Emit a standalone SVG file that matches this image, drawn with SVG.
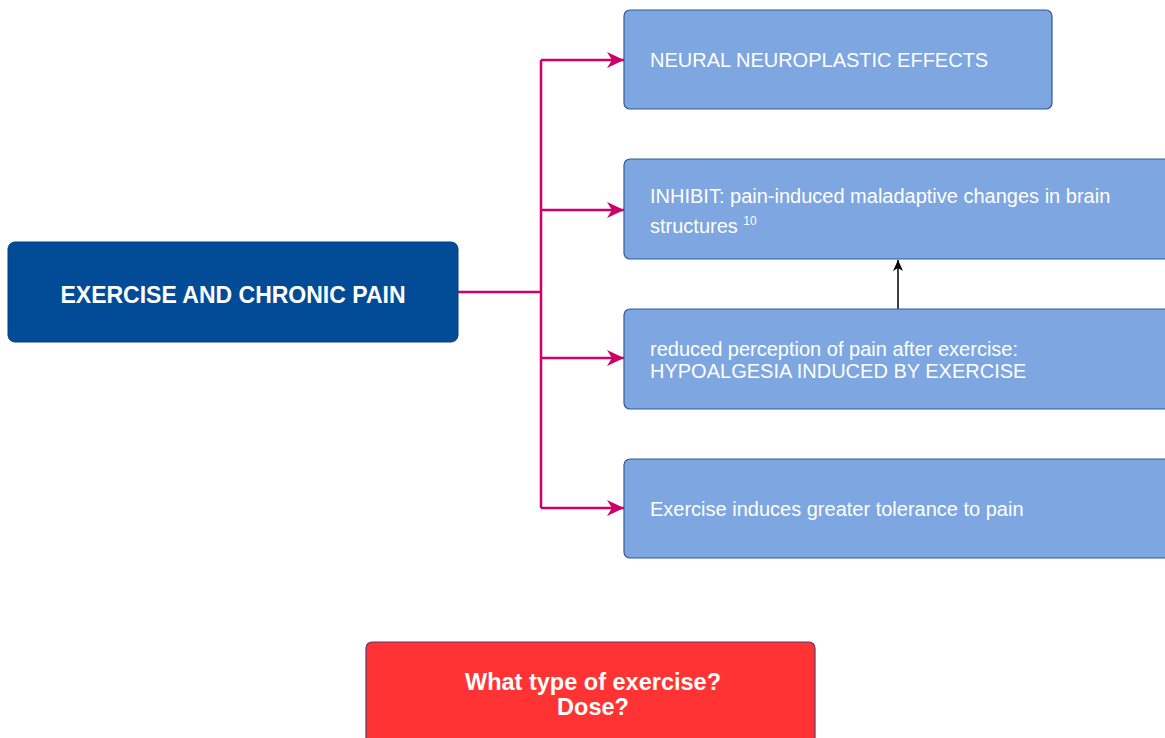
<svg xmlns="http://www.w3.org/2000/svg" width="1165" height="738" viewBox="0 0 1165 738">
<defs>
<style>
.box{fill:#7ea6e0;stroke:#2f5a99;stroke-width:1.2}
.t{font-family:"Liberation Sans",Arial,sans-serif;fill:#ffffff;font-size:20px}
.b{font-family:"Liberation Sans",Arial,sans-serif;fill:#ffffff;font-weight:bold;text-anchor:middle}
.conn{fill:none;stroke:#cc0066;stroke-width:2.5}
</style>
<marker id="mg" markerWidth="18" markerHeight="16" refX="17" refY="8" orient="auto" markerUnits="userSpaceOnUse">
<path d="M0,0 L17,8 L0,16 L5,8 Z" fill="#cc0066"/>
</marker>
<marker id="bk" markerWidth="12" markerHeight="12" refX="11" refY="5" orient="auto" markerUnits="userSpaceOnUse">
<path d="M0,0 L11,5 L0,10 L3,5 Z" fill="#000000"/>
</marker>
</defs>
<rect width="1165" height="738" fill="#ffffff"/>
<g id="connectors">
<path class="conn" d="M458,292 H541"/>
<path class="conn" d="M541,60 V508"/>
<path class="conn" d="M541,60 H624" marker-end="url(#mg)"/>
<path class="conn" d="M541,210 H624" marker-end="url(#mg)"/>
<path class="conn" d="M541,358 H624" marker-end="url(#mg)"/>
<path class="conn" d="M541,508 H624" marker-end="url(#mg)"/>
<path d="M898,309 V260" fill="none" stroke="#000000" stroke-width="1.5" marker-end="url(#bk)"/>
</g>
<g id="main">
<rect x="8" y="242" width="450" height="100" rx="7" fill="#024c97" stroke="#013f80" stroke-width="1"/>
<text class="b" x="233" y="303" font-size="23">EXERCISE AND CHRONIC PAIN</text>
</g>
<g id="n1">
<rect class="box" x="624" y="10" width="428" height="99" rx="6"/>
<text class="t" x="650" y="67">NEURAL NEUROPLASTIC EFFECTS</text>
</g>
<g id="n2">
<rect class="box" x="624" y="159" width="560" height="100" rx="6"/>
<text class="t" x="650" y="203">INHIBIT: pain-induced maladaptive changes in brain</text>
<text class="t" x="650" y="233">structures <tspan font-size="12" dy="-8">10</tspan></text>
</g>
<g id="n3">
<rect class="box" x="624" y="309" width="560" height="100" rx="6"/>
<text class="t" x="650" y="356">reduced perception of pain after exercise:</text>
<text class="t" x="650" y="378">HYPOALGESIA INDUCED BY EXERCISE</text>
</g>
<g id="n4">
<rect class="box" x="624" y="459" width="560" height="99" rx="6"/>
<text class="t" x="650" y="516">Exercise induces greater tolerance to pain</text>
</g>
<g id="q">
<rect x="366" y="642" width="449" height="110" rx="6" fill="#ff3333" stroke="#5a3a6a" stroke-width="1.2"/>
<text class="b" x="593" y="690" font-size="23.5">What type of exercise?</text>
<text class="b" x="593" y="715" font-size="23.5">Dose?</text>
</g>
</svg>
